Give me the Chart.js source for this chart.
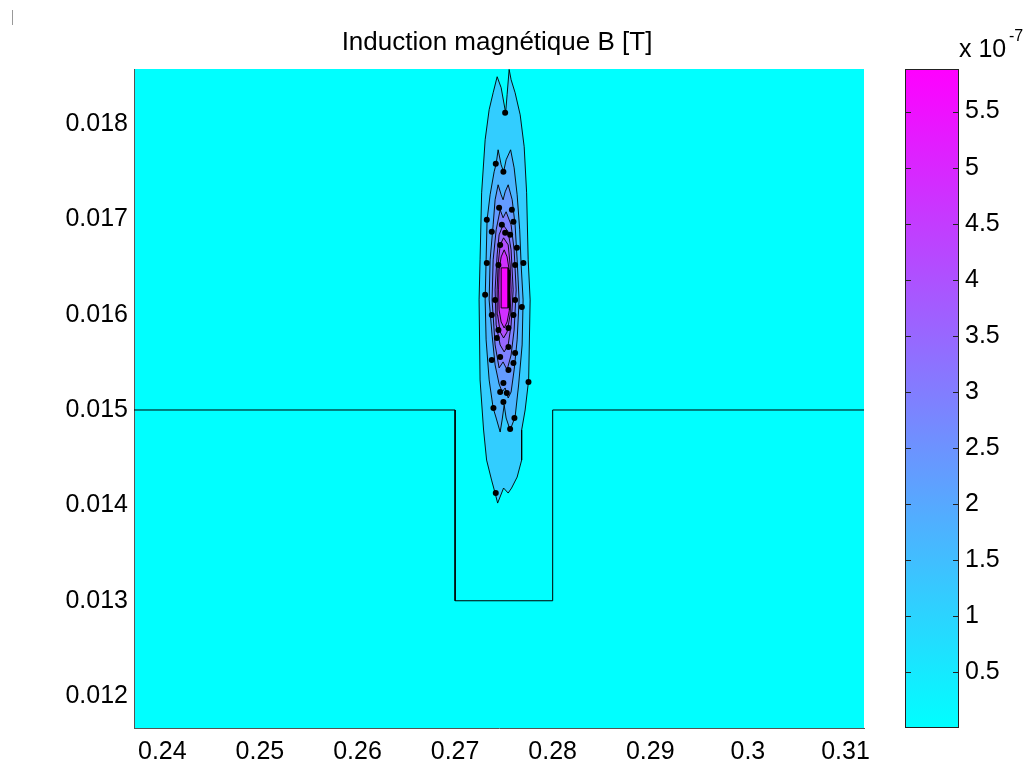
<!DOCTYPE html>
<html>
<head>
<meta charset="utf-8">
<title>Induction magnétique B</title>
<script src="https://cdn.jsdelivr.net/npm/chart.js@4.4.1/dist/chart.umd.min.js"></script>
<style>
  body { margin: 0; background: #fff; }
  #wrap { position: relative; width: 1029px; height: 767px; font-family: "Liberation Sans", Arial, sans-serif; color: #000; }
  #field { position: absolute; left: 0; top: 0; }
  #scale { position: absolute; left: 870px; top: 0; }
  #title { position: absolute; left: 0; width: 994px; top: 28px; text-align: center; font-size: 26px; line-height: 26px; }
  #mult { position: absolute; left: 959px; top: 36px; font-size: 25px; line-height: 25px; white-space: nowrap; }
  #expo { position: absolute; left: 1009px; top: 28px; font-size: 16px; line-height: 16px; }
  #mark { position: absolute; left: 12px; top: 10px; width: 1px; height: 15px; background: #999; }
</style>
</head>
<body>
<div id="wrap">
  <div id="mark"></div>
  <canvas id="field" width="1029" height="767"></canvas>
  <canvas id="scale" width="159" height="767"></canvas>
  <div id="title">Induction magnétique B [T]</div>
  <div id="mult">x 10</div>
  <div id="expo">-7</div>
</div>
<script>
// axis limits and ticks (metres)
const xLimits = [0.2371, 0.3119];
const yLimits = [0.011666, 0.018575];
const xTicks = [0.24, 0.25, 0.26, 0.27, 0.28, 0.29, 0.30, 0.31];
const xTickLabels = ['0.24', '0.25', '0.26', '0.27', '0.28', '0.29', '0.3', '0.31'];
const yTicks = [0.012, 0.013, 0.014, 0.015, 0.016, 0.017, 0.018];
const yTickLabels = ['0.012', '0.013', '0.014', '0.015', '0.016', '0.017', '0.018'];

// colour bar, in units of 1e-7 T
const bMin = 0;
const bMax = 5.88;
const barTicks = [0.5, 1, 1.5, 2, 2.5, 3, 3.5, 4, 4.5, 5, 5.5];
const barTickLabels = ['0.5', '1', '1.5', '2', '2.5', '3', '3.5', '4', '4.5', '5', '5.5'];

// geometry boundary (slot between 0.27 and 0.28)
const boundaryX = [0.2371, 0.27, 0.27, 0.28, 0.28, 0.3119];
const boundaryY = [0.015, 0.015, 0.013, 0.013, 0.015, 0.015];

// iso-B contours, outermost first, and the field level filling each one
const bandLevels = [1.15, 1.7, 2.3, 2.9, 3.5, 4.1, 4.8, 5.75];
const ring1 = [
  [0.27554, 0.01857], [0.27574, 0.018463], [0.27615, 0.018326], [0.27667, 0.018095],
  [0.27708, 0.01776], [0.27733, 0.017277], [0.27749, 0.016574], [0.27769, 0.016154],
  [0.27754, 0.015315], [0.27718, 0.015], [0.27682, 0.01479], [0.27682, 0.014475],
  [0.27636, 0.014297], [0.27579, 0.014182], [0.27544, 0.014129], [0.27497, 0.014182],
  [0.27436, 0.014024], [0.2741, 0.014129], [0.27374, 0.014265], [0.27323, 0.014475],
  [0.27292, 0.01479], [0.27256, 0.015315], [0.27246, 0.016154], [0.27256, 0.016574],
  [0.27272, 0.017277], [0.27308, 0.017833], [0.27349, 0.018148], [0.2739, 0.018326],
  [0.27431, 0.018494], [0.27472, 0.018379], [0.27518, 0.018116], [0.27533, 0.018305]
];
const ring2 = [
  [0.27441, 0.017728], [0.27472, 0.017571], [0.27497, 0.017497], [0.27523, 0.017623],
  [0.27569, 0.017728], [0.27605, 0.017539], [0.27636, 0.017256], [0.27662, 0.016889],
  [0.27677, 0.016521], [0.27697, 0.016154], [0.27687, 0.015682], [0.27651, 0.015262],
  [0.27615, 0.014927], [0.27564, 0.01479], [0.27523, 0.014916], [0.27503, 0.015052],
  [0.27482, 0.014895], [0.27462, 0.014769], [0.27421, 0.014916], [0.2739, 0.015021],
  [0.27349, 0.015315], [0.27318, 0.015735], [0.27308, 0.016154], [0.27318, 0.016574],
  [0.27328, 0.016994], [0.27359, 0.017256], [0.274, 0.017497], [0.27421, 0.017581]
];
const ring3 = [
  [0.27441, 0.017361], [0.27472, 0.017256], [0.27492, 0.017204], [0.27513, 0.017287],
  [0.27544, 0.017361], [0.27585, 0.017204], [0.27615, 0.016941], [0.27636, 0.016574],
  [0.27656, 0.016154], [0.27636, 0.015735], [0.27605, 0.01542], [0.27574, 0.015189],
  [0.27544, 0.015126], [0.27513, 0.015231], [0.27482, 0.015189], [0.27451, 0.015273],
  [0.2741, 0.015472], [0.27379, 0.015787], [0.27349, 0.016154], [0.27359, 0.016574],
  [0.2739, 0.016941], [0.2741, 0.017204]
];
const ring4 = [
  [0.27462, 0.017099], [0.27492, 0.017015], [0.27523, 0.017078], [0.27574, 0.016941],
  [0.27605, 0.016679], [0.27626, 0.016259], [0.27605, 0.015839], [0.27574, 0.015577],
  [0.27533, 0.01542], [0.27492, 0.015504], [0.27451, 0.015441], [0.2741, 0.015682],
  [0.27379, 0.016154], [0.2739, 0.016574], [0.27421, 0.016889]
];
const ring5 = [
  [0.27492, 0.016941], [0.27544, 0.016868], [0.27574, 0.016679], [0.27595, 0.016259],
  [0.27574, 0.015892], [0.27544, 0.015682], [0.27503, 0.015609], [0.27462, 0.015682],
  [0.27421, 0.015892], [0.2741, 0.016259], [0.27431, 0.016626], [0.27451, 0.016836]
];
const ring6 = [
  [0.27497, 0.016805], [0.27544, 0.016731], [0.27564, 0.016521], [0.27574, 0.016259],
  [0.27564, 0.015997], [0.27533, 0.015818], [0.27497, 0.015755], [0.27462, 0.015818],
  [0.27436, 0.015997], [0.27431, 0.016259], [0.27441, 0.016521], [0.27462, 0.016731]
];
const ring7 = [
  [0.27503, 0.016679], [0.27533, 0.016605], [0.27554, 0.016469], [0.27559, 0.016259],
  [0.27554, 0.016049], [0.27533, 0.015923], [0.27503, 0.01586], [0.27472, 0.015923],
  [0.27451, 0.016049], [0.27446, 0.016259], [0.27451, 0.016469], [0.27472, 0.016605]
];
const core = [[0.27472, 0.01649], [0.27544, 0.01649], [0.27544, 0.01607], [0.27472, 0.01607]];

// small markers sitting on the contour lines
const markers = [
  [0.27513, 0.018116], [0.27417, 0.017581], [0.27495, 0.017497], [0.27451, 0.01712],
  [0.27582, 0.017099], [0.27325, 0.016994], [0.27598, 0.016973], [0.27479, 0.016941],
  [0.27376, 0.016868], [0.27513, 0.016857], [0.27564, 0.016836], [0.27462, 0.016731],
  [0.27633, 0.0167], [0.27325, 0.016542], [0.277, 0.016542], [0.27444, 0.016521],
  [0.27615, 0.016521], [0.27308, 0.016207], [0.2741, 0.016154], [0.27615, 0.016154],
  [0.27684, 0.016081], [0.27376, 0.015997], [0.27598, 0.015997], [0.27444, 0.015839],
  [0.27547, 0.01586], [0.27428, 0.015755], [0.27547, 0.015661], [0.27376, 0.015525],
  [0.27615, 0.015598], [0.27462, 0.015556], [0.27547, 0.01542], [0.27598, 0.015493],
  [0.27495, 0.015283], [0.27752, 0.015294], [0.27462, 0.015189], [0.2753, 0.015178],
  [0.27495, 0.015084], [0.27393, 0.015021], [0.27608, 0.014916], [0.27564, 0.014801],
  [0.27417, 0.014129]
];

// "cool" colormap: cyan -> magenta
function coolColor(t) {
  t = Math.max(0, Math.min(1, t));
  return 'rgb(' + Math.round(255 * t) + ',' + Math.round(255 * (1 - t)) + ',255)';
}

const rings = [ring1, ring2, ring3, ring4, ring5, ring6, ring7, core];
const fieldFont = { family: '"Liberation Sans", Arial, sans-serif', size: 25 };

const contourSets = rings.map((r, i) => ({
  data: r.concat([r[0]]).map(p => ({ x: p[0], y: p[1] })),
  showLine: true,
  fill: 'shape',
  tension: 0,
  backgroundColor: coolColor((bandLevels[i] - bMin) / (bMax - bMin)),
  borderColor: 'rgba(0,0,0,0.9)',
  borderWidth: 1,
  pointRadius: 0,
  order: 20 - i
}));

// paint the plot area with the background field level
const fieldBackground = {
  id: 'fieldBackground',
  beforeDraw(chart) {
    const a = chart.chartArea;
    const ctx = chart.ctx;
    ctx.save();
    ctx.fillStyle = coolColor(0);
    ctx.fillRect(a.left, a.top, a.width, a.height);
    ctx.restore();
  }
};

new Chart(document.getElementById('field'), {
  type: 'scatter',
  data: {
    datasets: contourSets.concat([
      {
        data: boundaryX.map((x, i) => ({ x: x, y: boundaryY[i] })),
        showLine: true,
        fill: false,
        borderColor: '#000',
        borderWidth: 1,
        pointRadius: 0,
        order: 1
      },
      {
        data: markers.map(p => ({ x: p[0], y: p[1] })),
        backgroundColor: '#000',
        borderColor: '#000',
        pointRadius: 3,
        borderWidth: 0,
        order: 0
      }
    ])
  },
  options: {
    responsive: false,
    animation: false,
    events: [],
    layout: { padding: { left: 0, top: 69, right: 165, bottom: 0 } },
    plugins: { legend: { display: false }, tooltip: { enabled: false } },
    scales: {
      x: {
        type: 'linear',
        min: xLimits[0],
        max: xLimits[1],
        afterBuildTicks: s => { s.ticks = xTicks.map(v => ({ value: v })); },
        afterFit: s => { s.height = 39; },
        grid: { display: false, drawTicks: false },
        border: { display: true, color: '#555', width: 1 },
        ticks: {
          autoSkip: false, maxRotation: 0, padding: 9, color: '#000', font: fieldFont,
          callback: (v, i) => xTickLabels[i]
        }
      },
      y: {
        type: 'linear',
        min: yLimits[0],
        max: yLimits[1],
        afterBuildTicks: s => { s.ticks = yTicks.map(v => ({ value: v })); },
        afterFit: s => { s.width = 134; },
        grid: { display: false, drawTicks: false },
        border: { display: true, color: '#555', width: 1 },
        ticks: {
          autoSkip: false, padding: 6, color: '#000', font: fieldFont,
          callback: (v, i) => yTickLabels[i]
        }
      }
    }
  },
  plugins: [fieldBackground]
});

// colour bar frame and inner tick marks
const barFrame = {
  id: 'barFrame',
  afterDatasetsDraw(chart) {
    const a = chart.chartArea;
    const y = chart.scales.y;
    const ctx = chart.ctx;
    ctx.save();
    ctx.strokeStyle = '#222';
    ctx.lineWidth = 1;
    ctx.beginPath();
    barTicks.forEach(v => {
      const py = Math.round(y.getPixelForValue(v)) + 0.5;
      ctx.moveTo(a.left, py); ctx.lineTo(a.left + 6, py);
      ctx.moveTo(a.right - 6, py); ctx.lineTo(a.right, py);
    });
    ctx.stroke();
    ctx.strokeRect(a.left + 0.5, a.top + 0.5, a.width - 1, a.height - 1);
    ctx.restore();
  }
};

new Chart(document.getElementById('scale'), {
  type: 'bar',
  data: {
    labels: ['B'],
    datasets: [{
      data: [[bMin, bMax]],
      barPercentage: 1,
      categoryPercentage: 1,
      borderWidth: 0,
      backgroundColor: ctx => {
        const chart = ctx.chart;
        const a = chart.chartArea;
        if (!a) return coolColor(0);
        const y = chart.scales.y;
        const g = chart.ctx.createLinearGradient(0, y.getPixelForValue(bMin), 0, y.getPixelForValue(bMax));
        g.addColorStop(0, coolColor(0));
        g.addColorStop(1, coolColor(1));
        return g;
      }
    }]
  },
  options: {
    responsive: false,
    animation: false,
    events: [],
    layout: { padding: { left: 35, top: 69, right: 0, bottom: 39 } },
    plugins: { legend: { display: false }, tooltip: { enabled: false } },
    scales: {
      x: { display: false },
      y: {
        position: 'right',
        min: bMin,
        max: bMax,
        afterBuildTicks: s => { s.ticks = barTicks.map(v => ({ value: v })); },
        afterFit: s => { s.width = 70; },
        grid: { display: false, drawTicks: false },
        border: { display: false },
        ticks: {
          autoSkip: false, padding: 6, color: '#000', font: fieldFont,
          callback: (v, i) => barTickLabels[i]
        }
      }
    }
  },
  plugins: [barFrame]
});
</script>
</body>
</html>
